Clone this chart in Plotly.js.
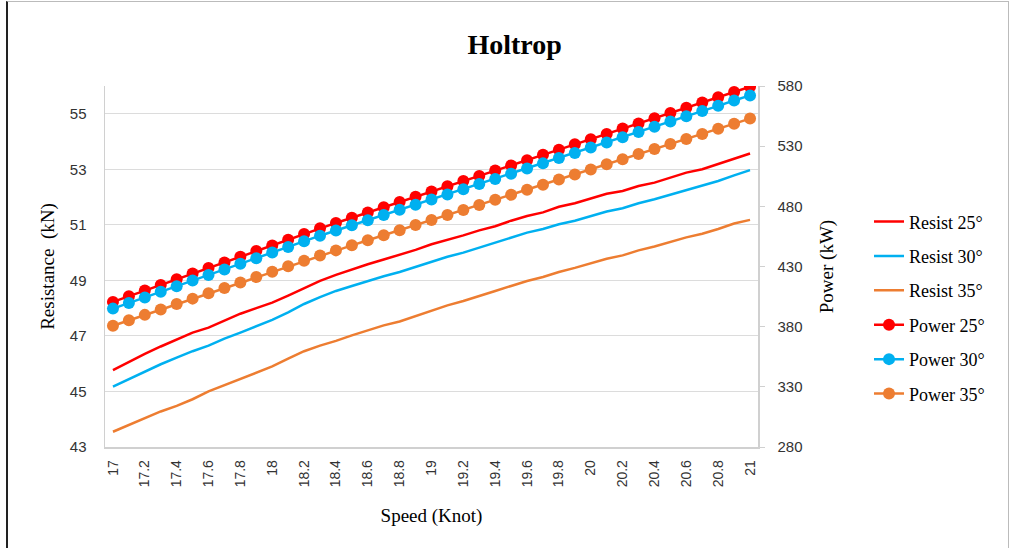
<!DOCTYPE html>
<html>
<head>
<meta charset="utf-8">
<script src="https://cdn.plot.ly/plotly-3.0.1.min.js"></script>
<style>
  html, body { margin: 0; padding: 0; background: #fff; }
  #frame { position: absolute; left: 6px; top: 1px; width: 1000px; height: 560px; border-left: 2px solid #222; border-top: 1px solid #bbb; border-right: 1px solid #bbb; }
  #chart { position: absolute; left: 0; top: 0; width: 1013px; height: 548px; }
</style>
</head>
<body>
<div id="frame"></div>
<div id="chart"></div>
<script>
// Speed (Knot)
const speed = [17.0,17.1,17.2,17.3,17.4,17.5,17.6,17.7,17.8,17.9,
               18.0,18.1,18.2,18.3,18.4,18.5,18.6,18.7,18.8,18.9,
               19.0,19.1,19.2,19.3,19.4,19.5,19.6,19.7,19.8,19.9,
               20.0,20.1,20.2,20.3,20.4,20.5,20.6,20.7,20.8,20.9,21.0];

// Resistance (kN)
const resist25 = [45.77,46.07,46.35,46.62,46.88,47.12,47.30,47.55,47.80,48.00,
                  48.20,48.45,48.72,48.98,49.20,49.40,49.58,49.75,49.92,50.10,
                  50.30,50.45,50.62,50.80,50.95,51.15,51.32,51.45,51.65,51.78,
                  51.95,52.12,52.22,52.40,52.52,52.70,52.88,53.00,53.18,53.38,53.57];
const resist30 = [45.17,45.45,45.72,45.98,46.22,46.45,46.65,46.90,47.12,47.35,
                  47.58,47.85,48.15,48.40,48.62,48.80,48.98,49.15,49.30,49.48,
                  49.68,49.85,50.00,50.18,50.35,50.55,50.72,50.85,51.02,51.15,
                  51.32,51.48,51.60,51.78,51.92,52.08,52.25,52.40,52.58,52.78,52.97];
const resist35 = [43.55,43.80,44.04,44.28,44.48,44.72,45.00,45.22,45.45,45.68,
                  45.90,46.18,46.45,46.65,46.82,47.02,47.20,47.38,47.52,47.72,
                  47.92,48.10,48.26,48.45,48.62,48.80,48.98,49.12,49.30,49.45,
                  49.62,49.78,49.90,50.08,50.22,50.38,50.55,50.68,50.85,51.05,51.18];

// Power (kW)
const power25 = [400.6,405.3,410.0,414.7,419.4,424.1,428.7,433.4,438.1,442.8,
                 447.5,452.2,457.0,461.8,466.2,470.5,474.9,479.2,483.6,487.9,
                 492.3,496.6,501.0,505.3,509.7,514.0,518.4,522.8,527.1,531.5,
                 535.8,540.2,544.6,548.9,553.3,557.6,562.0,566.3,570.7,575.0,579.4];
const power30 = [395.0,399.7,404.3,409.0,413.6,418.3,423.0,427.6,432.3,436.9,
                 441.6,446.3,450.9,455.6,459.9,464.2,468.5,472.8,477.1,481.3,
                 485.6,489.9,494.2,498.5,502.8,507.1,511.4,515.7,520.1,524.4,
                 528.8,533.1,537.4,541.8,546.1,550.5,554.8,559.2,563.5,567.9,572.2];
const power35 = [380.8,385.3,389.8,394.3,398.8,403.3,407.7,412.2,416.7,421.2,
                 425.7,430.2,434.7,439.2,443.4,447.6,451.8,456.0,460.2,464.4,
                 468.6,472.8,477.0,481.2,485.4,489.6,493.8,498.0,502.3,506.5,
                 510.7,514.9,519.1,523.4,527.6,531.8,536.0,540.2,544.5,548.7,552.9];

// Tick labels
const xTickVals = [17,17.2,17.4,17.6,17.8,18,18.2,18.4,18.6,18.8,19,19.2,19.4,19.6,19.8,20,20.2,20.4,20.6,20.8,21];
const xTickText = ["17","17.2","17.4","17.6","17.8","18","18.2","18.4","18.6","18.8","19","19.2","19.4","19.6","19.8","20","20.2","20.4","20.6","20.8","21"];

const names = ["Resist 25°","Resist 30°","Resist 35°",
               "Power 25°","Power 30°","Power 35°"];
const colors = ["#FF0000","#00B0F0","#ED7D31"];

const traces = [];
[resist25, resist30, resist35].forEach((ys, i) => {
  traces.push({x: speed, y: ys, name: names[i], type: 'scatter', mode: 'lines',
    line: {color: colors[i], width: 2.5}, legendgroup: 'g' + i, yaxis: 'y'});
});
[power25, power30, power35].forEach((ys, i) => {
  traces.push({x: speed, y: ys, name: names[3 + i], type: 'scatter', mode: 'lines+markers',
    line: {color: colors[i], width: 2.5}, marker: {color: colors[i], size: 12},
    legendgroup: 'g' + (3 + i), yaxis: 'y2'});
});

const serif = 'Liberation Serif, Times New Roman, serif';
const sans = 'Liberation Sans, Arial, sans-serif';

const layout = {
  width: 1013, height: 548,
  margin: {l: 105, r: 255, t: 86, b: 101, pad: 0},
  paper_bgcolor: 'rgba(0,0,0,0)', plot_bgcolor: 'rgba(0,0,0,0)',
  showlegend: true,
  title: {text: '<b>Holtrop</b>', font: {family: serif, size: 28, color: '#000'},
          x: 0.508, xref: 'container', xanchor: 'center', y: 0.92, yref: 'container', yanchor: 'middle'},
  xaxis: {
    range: [16.95, 21.05], tickmode: 'array', tickvals: xTickVals, ticktext: xTickText,
    tickangle: -90, tickfont: {family: sans, size: 14, color: '#333'},
    showgrid: false, zeroline: false, showline: true, linecolor: '#d0d0d0', linewidth: 1.5,
    ticks: '', ticklabelstandoff: 6, automargin: false,
    title: {text: 'Speed (Knot)', font: {family: serif, size: 19, color: '#000'}, standoff: 22}
  },
  yaxis: {
    range: [43, 56], tick0: 43, dtick: 2, tickmode: 'linear',
    tickfont: {family: sans, size: 15, color: '#333'},
    showgrid: true, gridcolor: '#dcdcdc', gridwidth: 1, zeroline: false,
    showline: true, linecolor: '#d0d0d0', linewidth: 1.5, ticks: '',
    ticklabelstandoff: 14, automargin: false,
    title: {text: 'Resistance  (kN)', font: {family: serif, size: 19, color: '#000'}, standoff: 10}
  },
  yaxis2: {
    range: [280, 580], tick0: 280, dtick: 50, tickmode: 'linear', overlaying: 'y', side: 'right',
    tickfont: {family: sans, size: 15, color: '#333'},
    showgrid: false, zeroline: false, showline: true, linecolor: '#d0d0d0', linewidth: 1.5,
    ticks: 'outside', ticklen: 5, tickcolor: '#d0d0d0', ticklabelstandoff: 10, automargin: false,
    title: {text: 'Power (kW)', font: {family: serif, size: 19, color: '#000'}, standoff: 18}
  },
  legend: {
    x: 1.17, xanchor: 'left', y: 0.675, yanchor: 'top',
    font: {family: serif, size: 18, color: '#000'},
    tracegroupgap: 8, bgcolor: 'rgba(0,0,0,0)', traceorder: 'grouped'
  }
};

Plotly.newPlot('chart', traces, layout, {displayModeBar: false, staticPlot: true});
</script>
</body>
</html>
